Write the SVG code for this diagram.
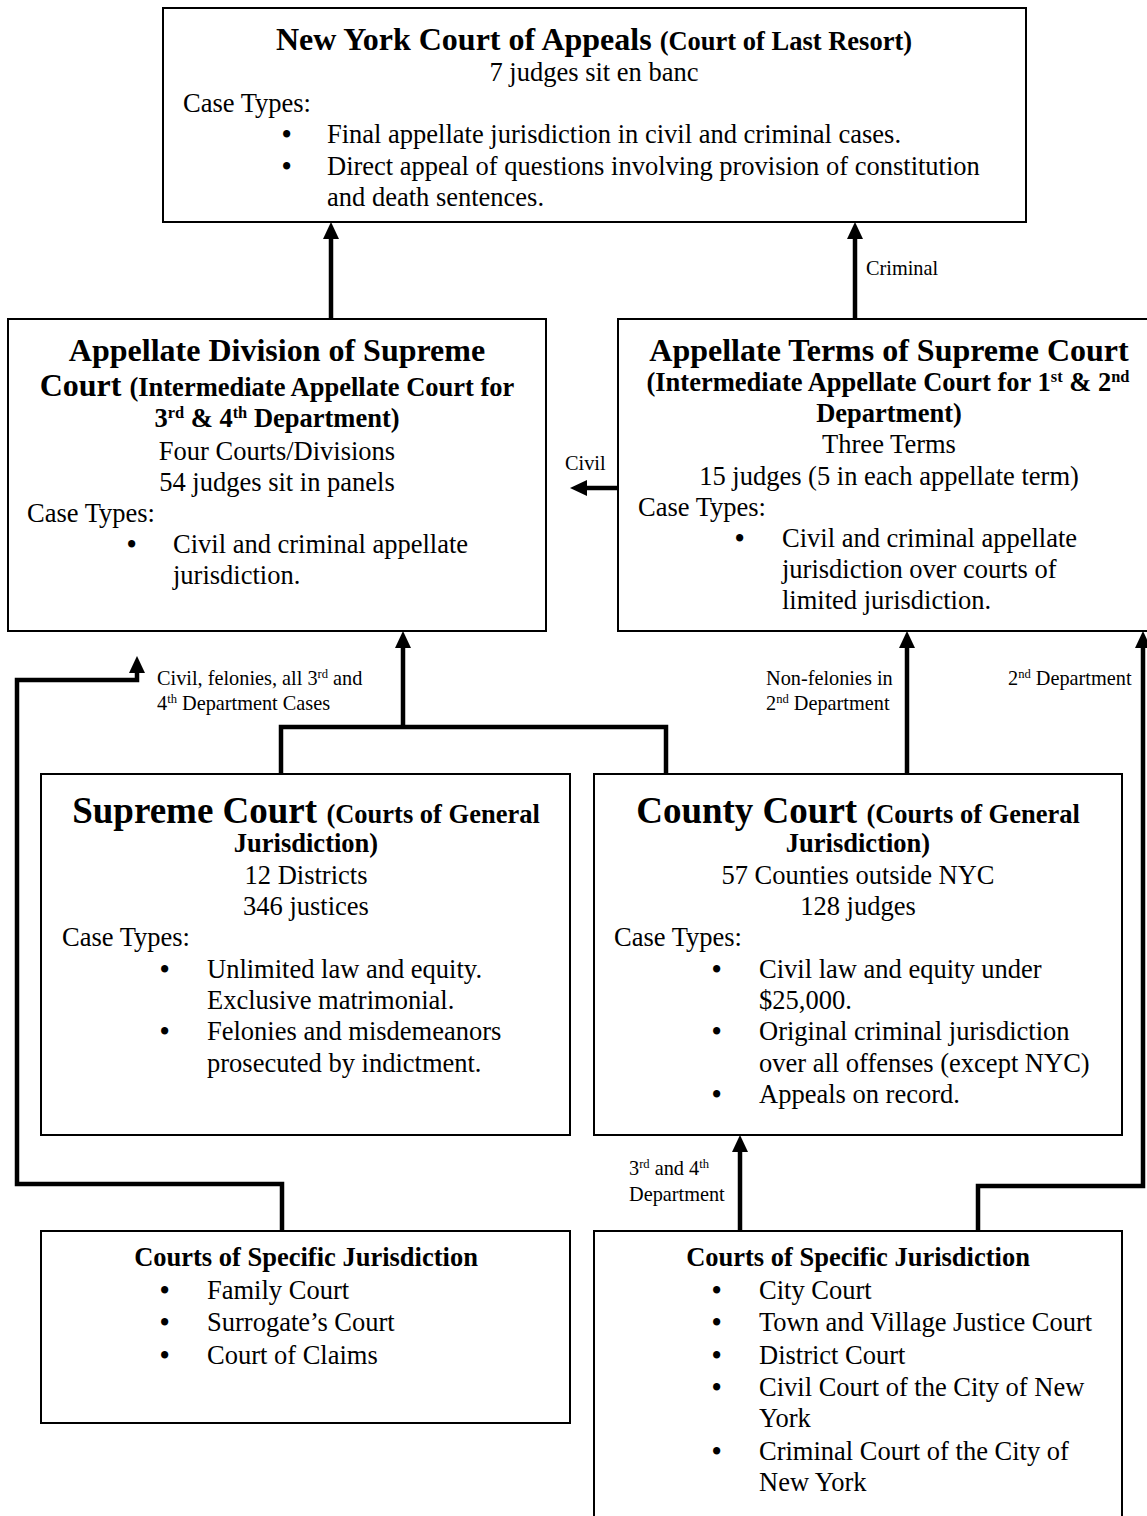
<svg xmlns="http://www.w3.org/2000/svg" width="1147" height="1516" viewBox="0 0 1147 1516">
<style>
.box{fill:#fff;stroke:#000;stroke-width:2}
.t{font-family:"Liberation Serif","Times New Roman",serif;font-size:26.5px;fill:#000}
.c{text-anchor:middle}
.b{font-weight:bold}
.bl{font-weight:bold}
.ti{font-family:"Liberation Serif","Times New Roman",serif;font-size:32px;font-weight:bold;fill:#000}
.big{font-size:37px}
.sm{font-family:"Liberation Serif","Times New Roman",serif;font-size:20.3px;fill:#000}
.sup{font-size:62%}
.conn{fill:none;stroke:#000;stroke-width:4.5;stroke-linejoin:miter}
</style>
<defs>
<marker id="ah" viewBox="0 0 17 16" refX="0" refY="8" markerWidth="17" markerHeight="16" markerUnits="userSpaceOnUse" orient="auto">
<path d="M0,0 L17,8 L0,16 Z" fill="#000"/>
</marker>
</defs>

<g id="connectors">
<path class="conn" d="M331,319 V239" marker-end="url(#ah)"/>
<path class="conn" d="M855,319 V239" marker-end="url(#ah)"/>
<path class="conn" d="M618,488 H587" marker-end="url(#ah)"/>
<path class="conn" d="M282,1231 V1184 H17 V680 H137 V673" marker-end="url(#ah)"/>
<path class="conn" d="M281,774 V727 H666 V774"/>
<path class="conn" d="M403,727 V648" marker-end="url(#ah)"/>
<path class="conn" d="M907,774 V648" marker-end="url(#ah)"/>
<path class="conn" d="M978,1231 V1186 H1143 V648" marker-end="url(#ah)"/>
<path class="conn" d="M740,1231 V1152" marker-end="url(#ah)"/>
<text class="sm" x="866" y="275">Criminal</text>
<text class="sm" x="565" y="470">Civil</text>
<text class="sm" x="157" y="685">Civil, felonies, all 3<tspan class="sup" baseline-shift="super">rd</tspan> and</text>
<text class="sm" x="157" y="710">4<tspan class="sup" baseline-shift="super">th</tspan> Department Cases</text>
<text class="sm" x="766" y="685">Non-felonies in</text>
<text class="sm" x="766" y="710">2<tspan class="sup" baseline-shift="super">nd</tspan> Department</text>
<text class="sm" x="1008" y="685">2<tspan class="sup" baseline-shift="super">nd</tspan> Department</text>
<text class="sm" x="629" y="1175">3<tspan class="sup" baseline-shift="super">rd</tspan> and 4<tspan class="sup" baseline-shift="super">th</tspan></text>
<text class="sm" x="629" y="1201">Department</text>
</g>

<g id="court-of-appeals">
<rect class="box" x="163" y="8" width="863" height="214"/>
<text class="ti c" x="594" y="50">New York Court of Appeals <tspan class="t b">(Court of Last Resort)</tspan></text>
<text class="t c" x="594" y="81">7 judges sit en banc</text>
<text class="t" x="183" y="112">Case Types:</text>
<text class="t" y="143"><tspan class="bl" x="282">•</tspan><tspan x="327">Final appellate jurisdiction in civil and criminal cases.</tspan></text>
<text class="t" y="175"><tspan class="bl" x="282">•</tspan><tspan x="327">Direct appeal of questions involving provision of constitution</tspan></text>
<text class="t" x="327" y="206">and death sentences.</text>
</g>

<g id="appellate-division">
<rect class="box" x="8" y="319" width="538" height="312"/>
<text class="ti c" x="277" y="361">Appellate Division of Supreme</text>
<text class="ti c" x="277" y="396">Court <tspan class="t b">(Intermediate Appellate Court for</tspan></text>
<text class="t b c" x="277" y="427">3<tspan class="sup" baseline-shift="super">rd</tspan> &amp; 4<tspan class="sup" baseline-shift="super">th</tspan> Department)</text>
<text class="t c" x="277" y="460">Four Courts/Divisions</text>
<text class="t c" x="277" y="491">54 judges sit in panels</text>
<text class="t" x="27" y="522">Case Types:</text>
<text class="t" y="553"><tspan class="bl" x="127">•</tspan><tspan x="173">Civil and criminal appellate</tspan></text>
<text class="t" x="173" y="584">jurisdiction.</text>
</g>

<g id="appellate-terms">
<rect class="box" x="618" y="319" width="545" height="312"/>
<text class="ti c" x="889" y="361">Appellate Terms of Supreme Court</text>
<text class="t b c" x="888" y="391">(Intermediate Appellate Court for 1<tspan class="sup" baseline-shift="super">st</tspan> &amp; 2<tspan class="sup" baseline-shift="super">nd</tspan></text>
<text class="t b c" x="889" y="422">Department)</text>
<text class="t c" x="889" y="453">Three Terms</text>
<text class="t c" x="889" y="485">15 judges (5 in each appellate term)</text>
<text class="t" x="638" y="516">Case Types:</text>
<text class="t" y="547"><tspan class="bl" x="735">•</tspan><tspan x="782">Civil and criminal appellate</tspan></text>
<text class="t" x="782" y="578">jurisdiction over courts of</text>
<text class="t" x="782" y="609">limited jurisdiction.</text>
</g>

<g id="supreme-court">
<rect class="box" x="41" y="774" width="529" height="361"/>
<text class="ti big c" x="306" y="823">Supreme Court <tspan class="t b">(Courts of General</tspan></text>
<text class="t b c" x="306" y="852">Jurisdiction)</text>
<text class="t c" x="306" y="884">12 Districts</text>
<text class="t c" x="306" y="915">346 justices</text>
<text class="t" x="62" y="946">Case Types:</text>
<text class="t" y="978"><tspan class="bl" x="160">•</tspan><tspan x="207">Unlimited law and equity.</tspan></text>
<text class="t" x="207" y="1009">Exclusive matrimonial.</text>
<text class="t" y="1040"><tspan class="bl" x="160">•</tspan><tspan x="207">Felonies and misdemeanors</tspan></text>
<text class="t" x="207" y="1072">prosecuted by indictment.</text>
</g>

<g id="county-court">
<rect class="box" x="594" y="774" width="528" height="361"/>
<text class="ti big c" x="858" y="823">County Court <tspan class="t b">(Courts of General</tspan></text>
<text class="t b c" x="858" y="852">Jurisdiction)</text>
<text class="t c" x="858" y="884">57 Counties outside NYC</text>
<text class="t c" x="858" y="915">128 judges</text>
<text class="t" x="614" y="946">Case Types:</text>
<text class="t" y="978"><tspan class="bl" x="712">•</tspan><tspan x="759">Civil law and equity under</tspan></text>
<text class="t" x="759" y="1009">$25,000.</text>
<text class="t" y="1040"><tspan class="bl" x="712">•</tspan><tspan x="759">Original criminal jurisdiction</tspan></text>
<text class="t" x="759" y="1072">over all offenses (except NYC)</text>
<text class="t" y="1103"><tspan class="bl" x="712">•</tspan><tspan x="759">Appeals on record.</tspan></text>
</g>

<g id="specific-left">
<rect class="box" x="41" y="1231" width="529" height="192"/>
<text class="t b c" x="306" y="1266">Courts of Specific Jurisdiction</text>
<text class="t" y="1299"><tspan class="bl" x="160">•</tspan><tspan x="207">Family Court</tspan></text>
<text class="t" y="1331"><tspan class="bl" x="160">•</tspan><tspan x="207">Surrogate’s Court</tspan></text>
<text class="t" y="1364"><tspan class="bl" x="160">•</tspan><tspan x="207">Court of Claims</tspan></text>
</g>

<g id="specific-right">
<rect class="box" x="594" y="1231" width="528" height="310"/>
<text class="t b c" x="858" y="1266">Courts of Specific Jurisdiction</text>
<text class="t" y="1299"><tspan class="bl" x="712">•</tspan><tspan x="759">City Court</tspan></text>
<text class="t" y="1331"><tspan class="bl" x="712">•</tspan><tspan x="759">Town and Village Justice Court</tspan></text>
<text class="t" y="1364"><tspan class="bl" x="712">•</tspan><tspan x="759">District Court</tspan></text>
<text class="t" y="1396"><tspan class="bl" x="712">•</tspan><tspan x="759">Civil Court of the City of New</tspan></text>
<text class="t" x="759" y="1427">York</text>
<text class="t" y="1460"><tspan class="bl" x="712">•</tspan><tspan x="759">Criminal Court of the City of</tspan></text>
<text class="t" x="759" y="1491">New York</text>
</g>
</svg>
